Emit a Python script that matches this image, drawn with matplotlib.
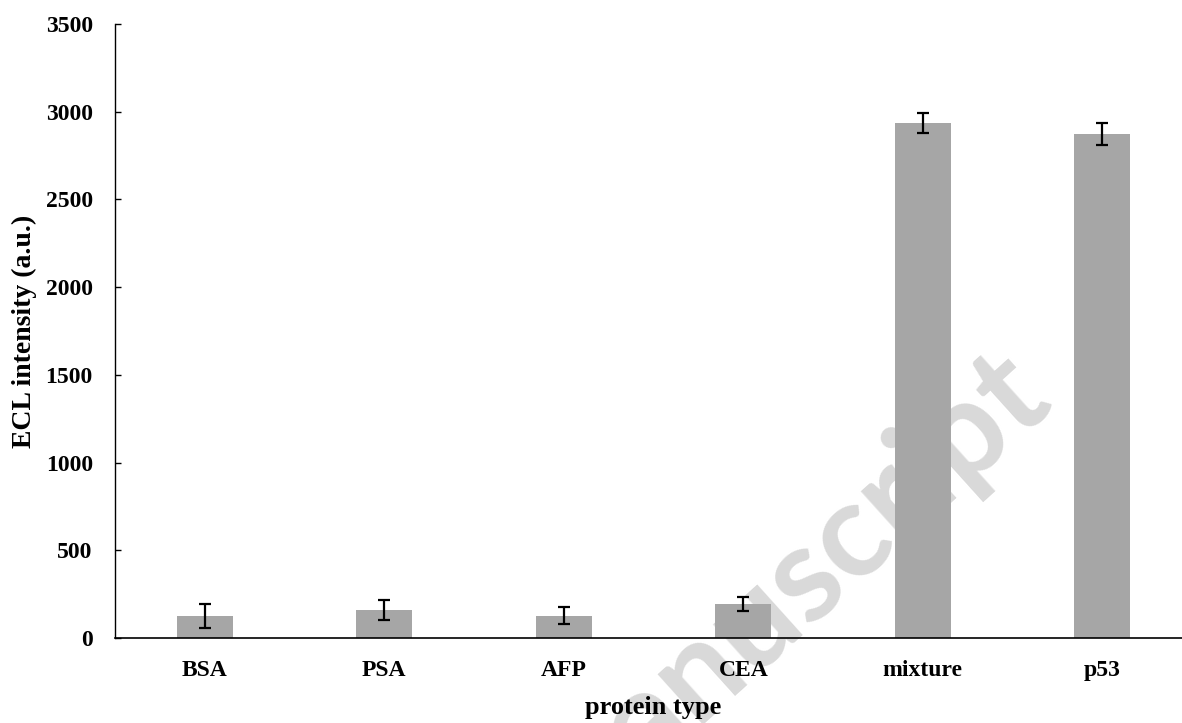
import numpy as np
import matplotlib
matplotlib.use("Agg")
import matplotlib.pyplot as plt

proteins = ["BSA", "PSA", "AFP", "CEA", "mixture", "p53"]
intensity = [126, 160, 127, 196, 2934, 2871]
errors = [70, 57, 49, 40, 57, 63]
yticks = [0, 500, 1000, 1500, 2000, 2500, 3000, 3500]

BAR_COLOR = "#a6a6a6"


def plot():
    plt.rcParams["font.family"] = ["Liberation Serif", "DejaVu Serif"]
    plt.rcParams["font.weight"] = "bold"

    fig = plt.figure(figsize=(11.82, 7.23), dpi=100)
    ax = fig.add_axes([0.0973, 0.1176, 0.9112, 0.8492])
    # axes on top of the watermark, transparent background
    ax.set_zorder(1)
    ax.patch.set_alpha(0)

    x = np.arange(len(proteins))
    ax.bar(x, intensity, width=0.31, color=BAR_COLOR, zorder=2)
    ax.errorbar(x, intensity, yerr=errors, fmt="none", ecolor="black",
                elinewidth=1.6, capsize=4.5, capthick=1.6, zorder=3)

    # watermark of the source page, sits behind everything
    fig.text(0.72, 0.186, "anuscript",
             rotation=42, rotation_mode="anchor", ha="center", va="baseline",
             fontsize=96, fontweight="bold", color="#d9d9d9",
             family=["Lato", "DejaVu Sans"], zorder=0)

    ax.set_xlim(-0.5, len(proteins) - 0.5)
    ax.set_ylim(0, 3500)
    ax.set_yticks(yticks)
    ax.set_xticks(x)
    ax.set_xticklabels(proteins)

    ax.spines["top"].set_visible(False)
    ax.spines["right"].set_visible(False)
    ax.spines["left"].set_linewidth(1.0)
    ax.spines["bottom"].set_linewidth(1.2)
    ax.tick_params(axis="y", direction="in", length=4.5, width=1.0,
                   pad=16, labelsize=17)
    ax.tick_params(axis="x", length=0, pad=16, labelsize=17)

    ax.set_xlabel("protein type", fontsize=19, fontweight="bold", labelpad=11)
    ax.set_ylabel("ECL intensity (a.u.)", fontsize=20, fontweight="bold",
                  labelpad=6)

    fig.savefig("out.png", dpi=100)


def main():
    plot()
    return 0


if __name__ == "__main__":
    main()
